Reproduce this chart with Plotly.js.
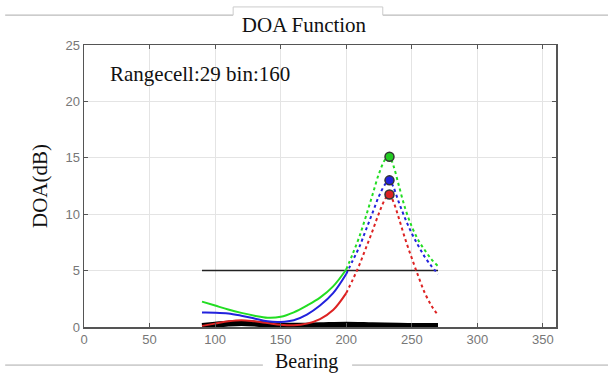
<!DOCTYPE html>
<html><head><meta charset="utf-8">
<script src="https://cdn.plot.ly/plotly-3.0.1.min.js"></script>
<style>html,body{margin:0;padding:0;background:#fff}#c{width:608px;height:376px}</style>
</head><body><div id="c"></div>
<script>
// Data
const bearingSolid = [90, 100, 110, 120, 130, 140, 150, 160, 170, 180, 190, 200];
const greenSolid = [2.25, 1.9, 1.55, 1.25, 1.0, 0.82, 0.9, 1.3, 1.9, 2.6, 3.6, 5.1];
const blueSolid  = [1.28, 1.27, 1.2, 1.0, 0.75, 0.5, 0.45, 0.6, 1.1, 1.9, 3.0, 4.7];
const redSolid   = [0.1, 0.3, 0.5, 0.6, 0.5, 0.35, 0.2, 0.15, 0.3, 0.7, 1.5, 3.0];
const bearingDot = [200, 205, 210, 215, 220, 225, 230, 233, 236, 240, 245, 250, 255, 260, 265, 270];
const greenDot = [5.1, 6.5, 8.0, 9.8, 11.7, 13.6, 14.9, 15.1, 14.3, 12.6, 10.5, 8.9, 7.7, 6.8, 6.0, 5.4];
const blueDot  = [4.7, 5.9, 7.1, 8.6, 10.1, 11.6, 12.7, 13.0, 12.4, 11.1, 9.6, 8.3, 7.2, 6.2, 5.4, 4.7];
const redDot   = [3.0, 4.2, 5.5, 7.0, 8.5, 10.1, 11.4, 11.75, 11.1, 9.7, 7.8, 6.1, 4.5, 3.0, 1.9, 1.05];
const peakBearing = [233, 233, 233];
const peakValue = [15.1, 13.0, 11.75];
const peakColors = ['#22cc22', '#2222dd', '#dd2222'];
const threshX = [90, 270];
const threshY = [5, 5];
const noiseX = [90, 100, 110, 120, 130, 140, 150, 160, 180, 200, 220, 240, 260, 270];
const noiseY = [0.1, 0.2, 0.3, 0.35, 0.3, 0.2, 0.12, 0.1, 0.15, 0.2, 0.15, 0.1, 0.08, 0.08];
const xTicks = [0, 50, 100, 150, 200, 250, 300, 350];
const yTicks = [0, 5, 10, 15, 20, 25];

const green = '#22dd22', blue = '#2222dd', red = '#dd2222';
const traces = [
  {x: threshX, y: threshY, mode: 'lines', line: {color: '#222', width: 1.5}},
  {x: noiseX, y: noiseY, mode: 'lines', line: {color: '#000', width: 6, shape: 'spline'}},
  {x: bearingSolid, y: redSolid, mode: 'lines', line: {color: red, width: 2, shape: 'spline'}},
  {x: bearingSolid, y: blueSolid, mode: 'lines', line: {color: blue, width: 2, shape: 'spline'}},
  {x: bearingSolid, y: greenSolid, mode: 'lines', line: {color: green, width: 2, shape: 'spline'}},
  {x: bearingDot, y: redDot, mode: 'lines', line: {color: red, width: 2, dash: 'dot', shape: 'spline'}},
  {x: bearingDot, y: blueDot, mode: 'lines', line: {color: blue, width: 2, dash: 'dot', shape: 'spline'}},
  {x: bearingDot, y: greenDot, mode: 'lines', line: {color: green, width: 2, dash: 'dot', shape: 'spline'}},
  {x: peakBearing, y: peakValue, mode: 'markers',
   marker: {symbol: 'circle', size: 9, color: peakColors, line: {color: '#333', width: 1.5}}}
];

const tickFont = {family: 'Liberation Sans, Arial, sans-serif', size: 13, color: '#777'};
const serif = 'Liberation Serif, Times New Roman, serif';
const layout = {
  width: 608, height: 376,
  margin: {l: 84, r: 52, t: 45, b: 49},
  paper_bgcolor: '#fff', plot_bgcolor: '#fff',
  showlegend: false,
  title: {text: 'DOA Function', font: {family: serif, size: 21, color: '#111'}, x: 0.5, xanchor: 'center', y: 0.934, yanchor: 'middle'},
  xaxis: {
    range: [0, 360], tickvals: xTicks, ticktext: xTicks.map(String),
    showgrid: true, gridcolor: '#e4e4e4', zeroline: false,
    showline: true, linecolor: '#555', linewidth: 1.5, mirror: 'ticks',
    ticks: 'inside', ticklen: 4, tickcolor: '#555',
    tickfont: tickFont
  },
  yaxis: {
    range: [0, 25], tickvals: yTicks, ticktext: yTicks.map(String),
    showgrid: true, gridcolor: '#e4e4e4', zeroline: false,
    showline: true, linecolor: '#555', linewidth: 1.5, mirror: 'ticks',
    ticks: 'inside', ticklen: 4, tickcolor: '#555',
    tickfont: tickFont,
    title: {text: 'DOA(dB)', font: {family: serif, size: 21, color: '#111'}, standoff: 12}
  },
  annotations: [
    {xref: 'paper', yref: 'paper', x: 0.05, y: 0.898, xanchor: 'left', yanchor: 'middle',
     text: 'Rangecell:29 bin:160', showarrow: false, font: {family: serif, size: 21, color: '#111'}},
    {xref: 'paper', yref: 'paper', x: (306 - 84) / 472, y: -0.123, xanchor: 'center', yanchor: 'middle',
     text: 'Bearing', showarrow: false, font: {family: serif, size: 20, color: '#111'}}
  ],
  shapes: [
    {type: 'line', xref: 'paper', yref: 'paper', x0: -0.167, x1: 0.316, y0: 1.106, y1: 1.106, line: {color: '#aaa', width: 1}},
    {type: 'line', xref: 'paper', yref: 'paper', x0: 0.633, x1: 1.12, y0: 1.106, y1: 1.106, line: {color: '#aaa', width: 1}},
    {type: 'path', xref: 'paper', yref: 'paper', path: 'M 0.316 1.106 L 0.316 1.135 L 0.633 1.135 L 0.633 1.106', line: {color: '#ccc', width: 1}},
    {type: 'line', xref: 'paper', yref: 'paper', x0: -0.167, x1: 0.379, y0: -0.135, y1: -0.135, line: {color: '#aaa', width: 1}},
    {type: 'line', xref: 'paper', yref: 'paper', x0: 0.568, x1: 1.12, y0: -0.135, y1: -0.135, line: {color: '#aaa', width: 1}}
  ]
};
Plotly.newPlot('c', traces, layout, {displayModeBar: false, staticPlot: true});
</script></body></html>
